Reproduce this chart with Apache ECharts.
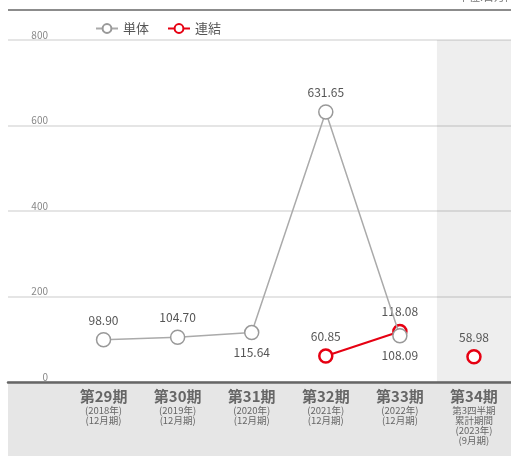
<!DOCTYPE html>
<html>
<head>
<meta charset="utf-8">
<script src="https://cdn.jsdelivr.net/npm/echarts@6/dist/echarts.min.js"></script>
<style>html,body{margin:0;padding:0;background:#fff;}#c{width:511px;height:456px;}</style>
</head>
<body>
<div id="c"></div>
<script>
var categories = ['第29期', '第30期', '第31期', '第32期', '第33期', '第34期'];
var subLabels = [
  ['(2018年)', '(12月期)'],
  ['(2019年)', '(12月期)'],
  ['(2020年)', '(12月期)'],
  ['(2021年)', '(12月期)'],
  ['(2022年)', '(12月期)'],
  ['第3四半期', '累計期間', '(2023年)', '(9月期)']
];
var tanTai = [98.90, 104.70, 115.64, 631.65, 108.09, null];
var renketsu = [null, null, null, 60.85, 118.08, null];
var renketsu34 = [null, null, null, null, null, 58.98];
var tanTaiLabelPos = ['top', 'top', 'bottom', 'top', 'bottom', 'top'];
var highlighted = [false, false, false, false, false, true];
var yTicks = [0, 200, 400, 600, 800];

var chart = echarts.init(document.getElementById('c'));
var FONT = '"Noto Sans CJK JP", "Noto Sans", sans-serif';
var Y_MAX = 800;

function lbl(v, pos) { return { value: v, label: { position: pos } }; }

chart.setOption({
  textStyle: { fontFamily: FONT },
  animation: false,
  graphic: [
    { type: 'rect', shape: { x: 8, y: 383, width: 503, height: 73 }, style: { fill: '#e6e6e6' }, z: -10 },
    { type: 'line', shape: { x1: 8, y1: 10, x2: 511, y2: 10 }, style: { stroke: '#666', lineWidth: 1.5 } },
    { type: 'text', left: 458, top: -9, style: { text: '単位:百万円', fill: '#777', font: '11px ' + FONT } }
  ],
  legend: {
    left: 90, top: 17, itemWidth: 22, itemHeight: 11, itemGap: 18,
    data: ['単体', '連結'],
    textStyle: { fontSize: 13, color: '#555' }
  },
  grid: [
    { left: 8, right: 0, top: 40, bottom: 74 },
    { left: 66.5, right: -5.5, top: 40, bottom: 74 }
  ],
  xAxis: [
    {
      type: 'value', gridIndex: 0, min: 0, max: 1, z: 5,
      axisLine: { show: true, onZero: false, lineStyle: { color: '#666', width: 2.5 } },
      axisTick: { show: false }, axisLabel: { show: false }, splitLine: { show: false }
    },
    {
      type: 'category', gridIndex: 1, data: categories, boundaryGap: true,
      axisLine: { show: false },
      axisTick: { show: false },
      axisLabel: {
        margin: 6, interval: 0,
        formatter: function (v, i) {
          return '{a|' + v + '}\n' + subLabels[i].map(function (s) { return '{b|' + s + '}'; }).join('\n');
        },
        rich: {
          a: { fontSize: 15, fontWeight: 'bold', color: '#666', lineHeight: 17, fontFamily: FONT },
          b: { fontSize: 9.5, color: '#666', lineHeight: 10, fontFamily: FONT }
        }
      }
    }
  ],
  yAxis: [
    {
      type: 'value', gridIndex: 0, min: 0, max: Y_MAX, interval: 200,
      axisLine: { show: false }, axisTick: { show: false },
      splitLine: { lineStyle: { color: '#dcdcdc', width: 1.5 } },
      axisLabel: {
        inside: true, margin: 40, align: 'right', verticalAlign: 'bottom',
        color: '#888', fontSize: 10,
        formatter: function (v) { return yTicks.indexOf(v) >= 0 ? String(v) : ''; }
      }
    },
    { type: 'value', gridIndex: 1, min: 0, max: Y_MAX, interval: 200, show: false, splitLine: { show: false } }
  ],
  series: [
    {
      name: 'shade', type: 'bar', xAxisIndex: 1, yAxisIndex: 1, silent: true,
      barWidth: '100%', z: 0,
      itemStyle: { color: 'rgba(0,0,0,0.065)' },
      data: highlighted.map(function (h) { return h ? Y_MAX : '-'; }),
      label: { show: false }
    },
    {
      name: '単体', type: 'line', xAxisIndex: 1, yAxisIndex: 1,
      data: tanTai.map(function (v, i) { return v === null ? '-' : lbl(v, tanTaiLabelPos[i]); }),
      symbol: 'circle', symbolSize: 14,
      itemStyle: { color: '#fff', borderColor: '#999', borderWidth: 1.5 },
      lineStyle: { color: '#aaa', width: 1.5 },
      label: { show: true, color: '#555', fontSize: 12, distance: 6, formatter: function (p) { return p.value.toFixed(2); } },
      z: 3
    },
    {
      name: '連結', type: 'line', xAxisIndex: 1, yAxisIndex: 1,
      data: renketsu.map(function (v) { return v === null ? '-' : v; }),
      symbol: 'circle', symbolSize: 13,
      itemStyle: { color: '#fff', borderColor: '#e60012', borderWidth: 2.5 },
      lineStyle: { color: '#e60012', width: 2 },
      label: { show: true, position: 'top', color: '#555', fontSize: 12, distance: 6, formatter: function (p) { return p.value.toFixed(2); } },
      z: 2
    },
    {
      name: '連結', type: 'line', xAxisIndex: 1, yAxisIndex: 1,
      data: renketsu34.map(function (v) { return v === null ? '-' : v; }),
      symbol: 'circle', symbolSize: 13,
      itemStyle: { color: '#fff', borderColor: '#e60012', borderWidth: 2.5 },
      lineStyle: { color: '#e60012', width: 2 },
      label: { show: true, position: 'top', color: '#555', fontSize: 12, distance: 6, formatter: function (p) { return p.value.toFixed(2); } },
      z: 2
    }
  ]
});
</script>
</body>
</html>
